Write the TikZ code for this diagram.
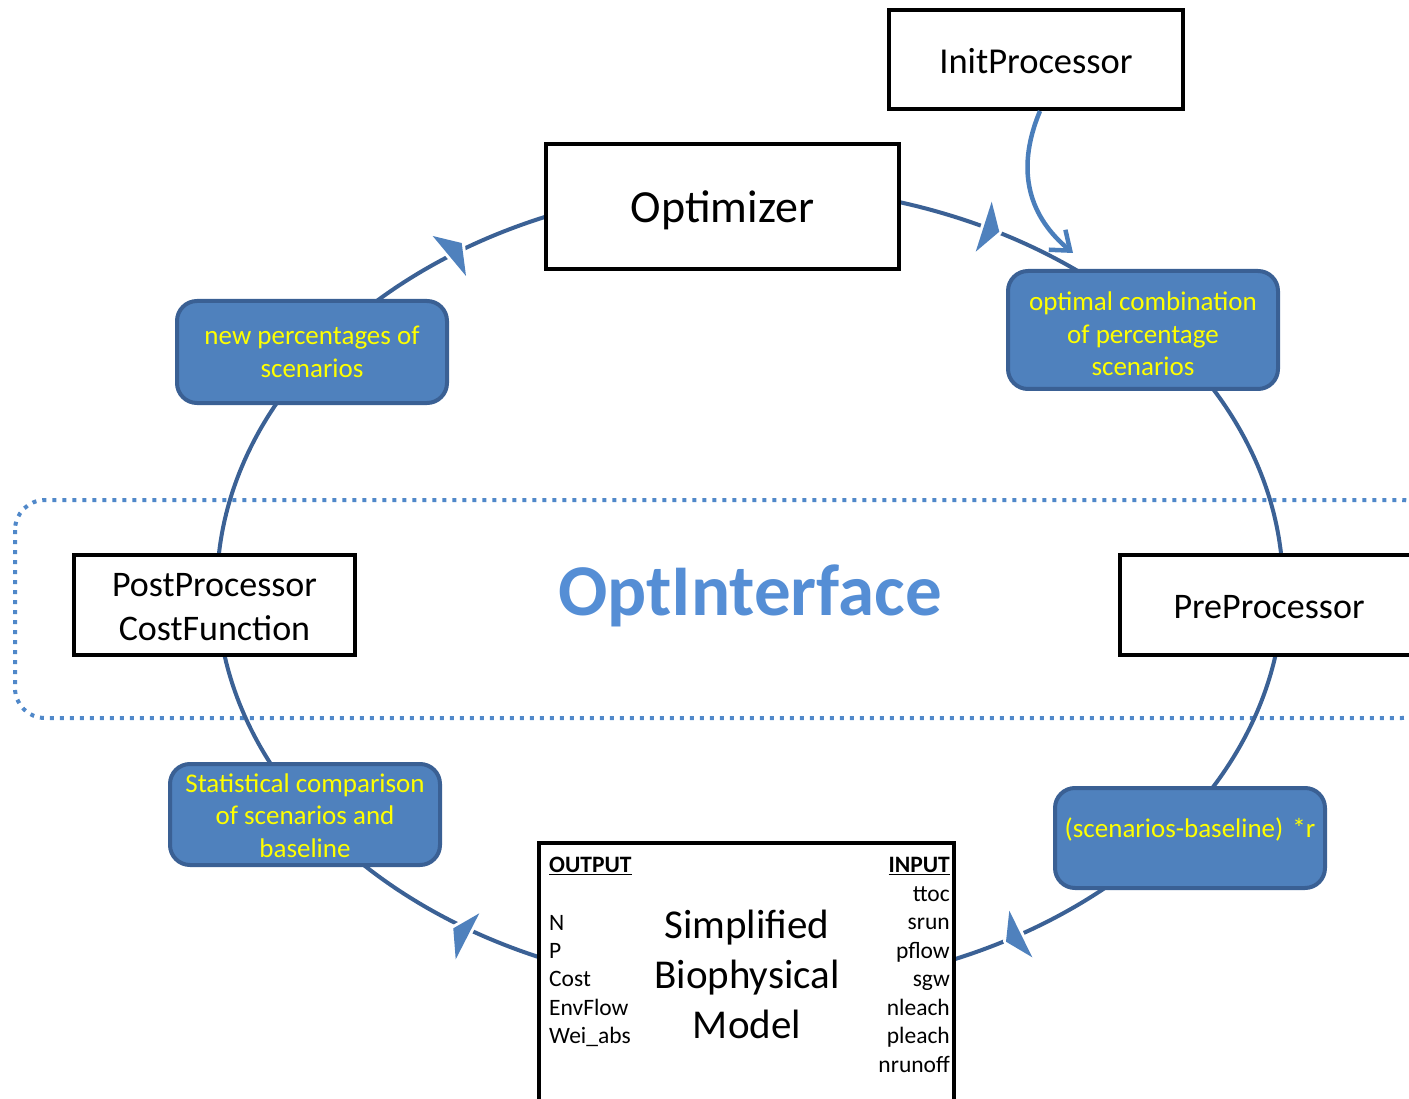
\documentclass[tikz,border=0pt]{standalone}
\usepackage{fontspec}
\setmainfont{Carlito}
\usetikzlibrary{arrows.meta}
\definecolor{ringblue}{HTML}{3B6195}
\definecolor{boxblue}{HTML}{4F81BD}
\definecolor{boxedge}{HTML}{3A6094}
\definecolor{dotblue}{HTML}{5088C9}
\definecolor{titleblue}{HTML}{558ED5}
\definecolor{initblue}{HTML}{4A7EBB}
\definecolor{txtyellow}{HTML}{FFFF00}
\begin{document}
\begin{tikzpicture}[x=1pt,y=-1pt,
  plainbox/.style={draw=black,line width=4pt,fill=white,inner sep=0pt},
  bluebox/.style={draw=boxedge,line width=4pt,fill=boxblue,rounded corners=20pt,inner sep=0pt,minimum width=270pt},
  bluetxt/.style={align=center,text=txtyellow,inner sep=0pt,font=\fontsize{27}{32.5}\selectfont},
  boxtxt/.style={align=center,inner sep=0pt,font=\fontsize{36}{44}\selectfont},
  ring/.style={draw=ringblue,line width=4pt},
  flowtip/.style={fill=boxblue,preaction={draw=white,line width=6pt,line join=round}},
  smalltxt/.style={font=\fontsize{23.5}{28}\selectfont,inner sep=0pt},
]
\useasboundingbox (0,0) rectangle (1409,1099);
\clip (0,0) rectangle (1409,1099);
% OptInterface region
\draw[dotblue,line width=4pt,dash pattern=on 4pt off 6pt,rounded corners=30pt] (15,500) rectangle (1432,718);
% ring connectors
\coordinate (c) at (750,588);
\foreach \a/\b in {74/50,40/-3,-3/-45,-45/-70,-110/-138,-138/-175,-175/-215,-215/-255}
  \draw[ring] ([shift={(\a:533pt and 402pt)}]c) arc[start angle=\a,end angle=\b,x radius=533pt,y radius=402pt];
% flow tips
\path[flowtip] (432.7,236) -- (461.7,243) -- (466,276) -- cycle;
\path[flowtip] (991.7,201.7) -- (999.3,231.7) -- (975.7,251.7) -- cycle;
\path[flowtip] (1009.3,910.7) -- (1032.3,957.3) -- (1006,941.7) -- cycle;
\path[flowtip] (479.3,913.3) -- (453.3,928.3) -- (455.7,959.3) -- cycle;
% boxes
\node[plainbox,minimum width=294pt,minimum height=99pt] (init) at (1036,59.5) {};
\node[plainbox,minimum width=353pt,minimum height=125pt] (opt) at (722.5,206.5) {};
\node[bluebox,minimum height=118pt] (optc) at (1143,330) {};
\node[bluebox,minimum height=102pt] (newp) at (312,352) {};
\node[plainbox,minimum width=281pt,minimum height=100pt] (post) at (214.5,605) {};
\node[plainbox,minimum width=298pt,minimum height=100pt] (pre) at (1269,605) {};
\node[bluebox,minimum height=101pt] (stat) at (305,814.5) {};
\node[bluebox,minimum height=100pt] (scen) at (1190,838) {};
\node[plainbox,minimum width=415pt,minimum height=300pt] (model) at (746.5,993) {};
% box texts
\node[boxtxt,font=\fontsize{36.5}{44}\selectfont] (initt) at ([yshift=-2pt]init.center) {InitProcessor};
\node[boxtxt,font=\fontsize{46}{55}\selectfont] (optt) at ([yshift=-4pt]opt.center) {Optimizer};
\node[bluetxt] (optct) at ([yshift=-4pt]optc.center) {optimal combination\\of percentage\\scenarios};
\node[bluetxt] (newpt) at (newp.center) {new percentages of\\scenarios};
\node[boxtxt] (postt) at ([yshift=-2pt]post.center) {PostProcessor\\CostFunction};
\node[boxtxt] (pret) at ([yshift=-2pt]pre.center) {PreProcessor};
\node[bluetxt] (statt) at ([yshift=-1pt]stat.center) {Statistical comparison\\of scenarios and\\baseline};
\node[bluetxt] (scent) at ([yshift=9pt]scen.center) {(scenarios-baseline)\hspace{9pt}*r};
\node[font=\bfseries\fontsize{73}{88}\selectfont,text=titleblue,inner sep=0pt] (oi) at (750,596) {OptInterface};
% model contents
\node[font=\fontsize{41}{50}\selectfont,align=center,inner sep=0pt] (title) at (747,974) {Simplified\\Biophysical\\Model};
\node[smalltxt,anchor=base west] (outh) at (549,872.5) {\bfseries\underline{OUTPUT}};
\node[smalltxt,anchor=base east] (inh) at (950,872.5) {\bfseries\underline{INPUT}};
\foreach \t [count=\i from 0] in {N,P,Cost,EnvFlow,Wei\_abs}
  \node[smalltxt,anchor=base west] (o\i) at (549,930+28.4*\i) {\t};
\foreach \t [count=\i from 0] in {ttoc,srun,pflow,sgw,nleach,pleach,nrunoff}
  \node[smalltxt,anchor=base east] (in\i) at (950,901+28.5*\i) {\t};
% init arrow
\draw[initblue,line width=4.5pt,-{Straight Barb[length=17pt,width=26pt]}] ([xshift=4pt]init.south) .. controls (1014,173) and (1031,218) .. ([xshift=-70pt,yshift=16pt]optc.north);
\end{tikzpicture}
\end{document}
